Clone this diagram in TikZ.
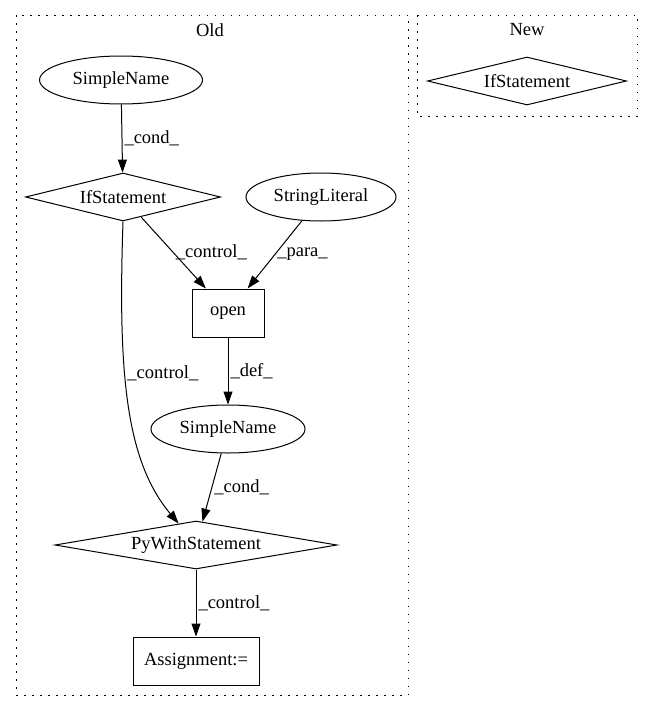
\documentclass[tikz,border=0pt]{standalone}
\usepackage{fontspec}
\setmainfont{Liberation Serif}
\usetikzlibrary{shapes.geometric,arrows.meta}

\begin{document}
\begin{tikzpicture}[x=1pt,y=-1pt,font=\fontsize{18.5}{22}\selectfont,
	ell/.style={draw,line width=1pt,ellipse,inner sep=0pt,minimum height=48pt},
	dia/.style={draw,line width=1pt,diamond,inner sep=0pt,minimum height=48pt},
	box/.style={draw,line width=1pt,rectangle,inner sep=0pt,minimum height=48pt},
	arr/.style={-{Triangle[length=13pt,width=9pt]},line width=1pt},
	lbl/.style={right,inner sep=2pt},
	cluster/.style={line width=1pt,dash pattern=on 1.5pt off 6.5pt}]
	\useasboundingbox (0,0) rectangle (652,712);

	%clusters and titles
	\draw[cluster] (16,15) rectangle (408,695); %Old
	\draw[cluster] (417,15) rectangle (637,116); %New
	\node (old) at (210,30) {Old};
	\node (new) at (527,30) {New};

	%nodes of Old
	\node[ell,minimum width=163pt] (sn1) at (121,80) {SimpleName};
	\node[dia,minimum width=195pt,aspect=4] (if1) at (123,197) {IfStatement};
	\node[ell,minimum width=150pt] (sl) at (321,197) {StringLiteral};
	\node[box,minimum width=72pt] (open) at (228,313) {open};
	\node[ell,minimum width=154pt] (sn2) at (228,429) {SimpleName};
	\node[dia,minimum width=282pt,aspect=5.9] (pws) at (196,545) {PyWithStatement};
	\node[box,minimum width=126pt] (asg) at (196,661) {Assignment:=};

	%node of New
	\node[dia,minimum width=199pt,aspect=4] (if2) at (527,81) {IfStatement};

	%edges
	\draw[arr] (sn1) -- node[lbl,midway] (l1) {\_cond\_} (if1);
	\draw[arr] (if1) -- node[lbl,midway] (l2) {\_control\_} (open);
	\draw[arr] (sl) -- node[lbl,midway] (l3) {\_para\_} (open);
	\draw[arr] (open) -- node[lbl,midway] (l4) {\_def\_} (sn2);
	\draw[arr] (if1.south) .. controls (118,370) and (125,460) .. node[lbl,pos=0.4] (l5) {\_control\_} (pws.129); %long control
	\draw[arr] (sn2) -- node[lbl,midway] (l6) {\_cond\_} (pws);
	\draw[arr] (pws) -- node[lbl,midway] (l7) {\_control\_} (asg);
\end{tikzpicture}
\end{document}
